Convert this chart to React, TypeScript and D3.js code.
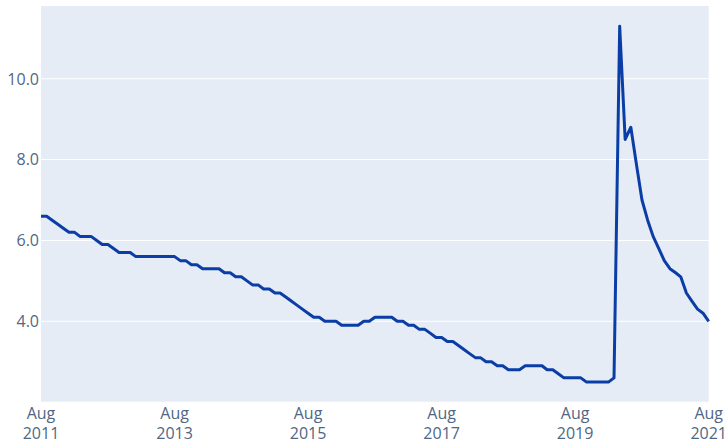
import React from 'react';
import * as d3 from 'd3';

// monthly values, Aug 2011 .. Aug 2021
const startMonth = new Date(2011, 7, 1);
const endMonth = new Date(2021, 7, 1);

const rateValues: number[] = [
  6.6, 6.6, 6.5, 6.4, 6.3, 6.2, 6.2, 6.1, 6.1, 6.1, 6.0, 5.9,
  5.9, 5.8, 5.7, 5.7, 5.7, 5.6, 5.6, 5.6, 5.6, 5.6, 5.6, 5.6,
  5.6, 5.5, 5.5, 5.4, 5.4, 5.3, 5.3, 5.3, 5.3, 5.2, 5.2, 5.1,
  5.1, 5.0, 4.9, 4.9, 4.8, 4.8, 4.7, 4.7, 4.6, 4.5, 4.4, 4.3,
  4.2, 4.1, 4.1, 4.0, 4.0, 4.0, 3.9, 3.9, 3.9, 3.9, 4.0, 4.0,
  4.1, 4.1, 4.1, 4.1, 4.0, 4.0, 3.9, 3.9, 3.8, 3.8, 3.7, 3.6,
  3.6, 3.5, 3.5, 3.4, 3.3, 3.2, 3.1, 3.1, 3.0, 3.0, 2.9, 2.9,
  2.8, 2.8, 2.8, 2.9, 2.9, 2.9, 2.9, 2.8, 2.8, 2.7, 2.6, 2.6,
  2.6, 2.6, 2.5, 2.5, 2.5, 2.5, 2.5, 2.6, 11.3, 8.5, 8.8, 7.9,
  7.0, 6.5, 6.1, 5.8, 5.5, 5.3, 5.2, 5.1, 4.7, 4.5, 4.3, 4.2,
  4.0,
];

const yTicks = [4, 6, 8, 10];
const xTickYears = [2011, 2013, 2015, 2017, 2019, 2021];

interface Point {
  date: Date;
  value: number;
}

const App = () => {
  const width = 727;
  const height = 443;
  const plot = { left: 41, right: 708.7, top: 6, bottom: 401.7 };

  const data: Point[] = rateValues.map((v, i) => ({
    date: d3.timeMonth.offset(startMonth, i),
    value: v,
  }));

  const x = d3.scaleTime().domain([startMonth, endMonth]).range([plot.left, plot.right]);
  const y = d3.scaleLinear().domain([2.01, 11.8]).range([plot.bottom, plot.top]);

  const line = d3
    .line<Point>()
    .x(d => x(d.date))
    .y(d => y(d.value));

  const fontFamily = '"Open Sans", "Noto Sans", sans-serif';
  const textColor = '#506784';

  return (
    <svg
      width={width}
      height={height}
      style={{ position: 'absolute', left: 0, top: 0, background: '#fff' }}
    >
      <rect
        x={plot.left}
        y={plot.top}
        width={plot.right - plot.left}
        height={plot.bottom - plot.top}
        fill="#E5ECF6"
      />
      {/* y grid */}
      {yTicks.map(t => (
        <line
          key={'g' + t}
          x1={plot.left}
          x2={plot.right}
          y1={y(t)}
          y2={y(t)}
          stroke="#fff"
          strokeWidth={1}
        />
      ))}
      {/* y labels */}
      {yTicks.map(t => (
        <text
          key={'l' + t}
          x={39}
          y={y(t)}
          dy="0.36em"
          textAnchor="end"
          fontFamily={fontFamily}
          fontSize={16}
          fill={textColor}
        >
          {d3.format('.1f')(t)}
        </text>
      ))}
      {/* x labels */}
      {xTickYears.map(yr => {
        const d = new Date(yr, 7, 1);
        return (
          <text
            key={'x' + yr}
            x={x(d)}
            textAnchor="middle"
            fontFamily={fontFamily}
            fontSize={16}
            fill={textColor}
          >
            <tspan x={x(d)} y={419}>
              {d3.timeFormat('%b')(d)}
            </tspan>
            <tspan x={x(d)} y={439}>
              {yr}
            </tspan>
          </text>
        );
      })}
      <path
        d={line(data) || ''}
        fill="none"
        stroke="#0a3ea6"
        strokeWidth={3}
        strokeLinejoin="round"
      />
    </svg>
  );
};

export default App;
